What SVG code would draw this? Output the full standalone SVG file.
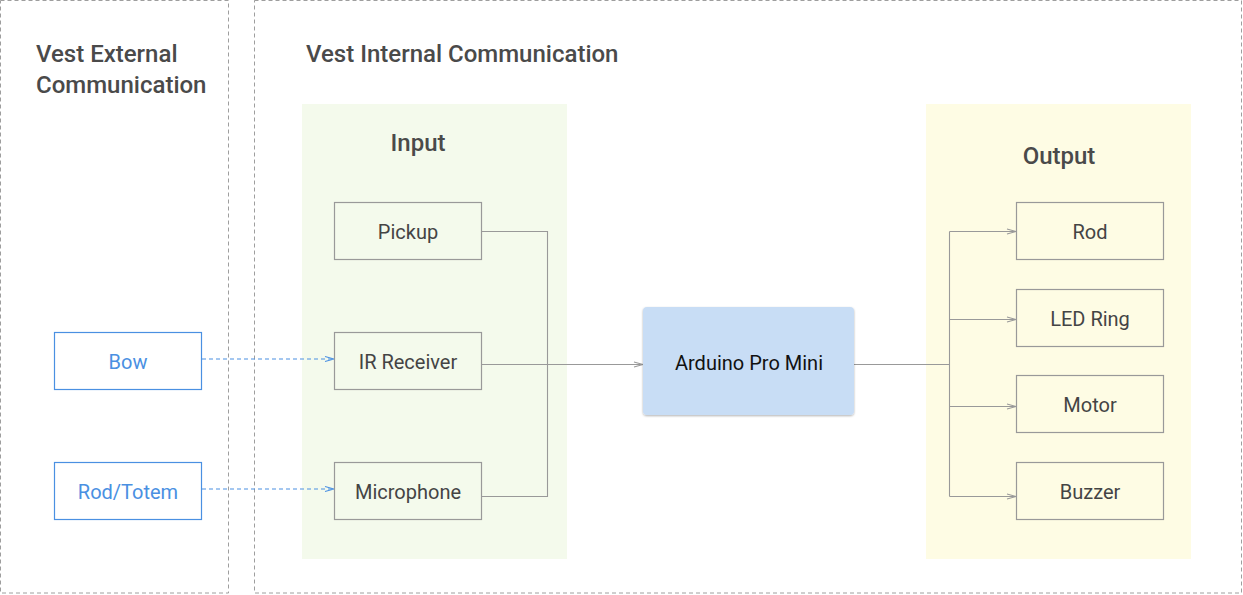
<svg xmlns="http://www.w3.org/2000/svg" width="1243" height="595" viewBox="0 0 1243 595">
<style>
.zone{fill:none;stroke:#9e9e9e;stroke-width:1;stroke-dasharray:4 3}
.title{font-family:Roboto,"Liberation Sans",sans-serif;font-size:24px;font-weight:500;fill:#4a4a4a}
.lbl{font-family:Roboto,"Liberation Sans",sans-serif;font-size:20px;fill:#444;text-anchor:middle}
.box{stroke:#999;stroke-width:1.2}
.ext{fill:#fff;stroke:#4a90e2;stroke-width:1.2}
.extlbl{font-family:Roboto,"Liberation Sans",sans-serif;font-size:20px;fill:#4a90e2;text-anchor:middle}
.conn{fill:none;stroke:#999;stroke-width:1.1}
.dash{fill:none;stroke:#4a90e2;stroke-width:1.1;stroke-dasharray:4 3}
</style>
<defs>
<marker id="arr" markerWidth="12" markerHeight="8" refX="11" refY="4" orient="auto" markerUnits="userSpaceOnUse">
<path d="M2,1.5 L11,4 L2,6.5" fill="none" stroke="#999" stroke-width="1.1"/>
</marker>
<marker id="arrb" markerWidth="12" markerHeight="8" refX="11" refY="4" orient="auto" markerUnits="userSpaceOnUse">
<path d="M2,1.5 L11,4 L2,6.5" fill="none" stroke="#4a90e2" stroke-width="1.1"/>
</marker>
<filter id="sh" x="-10%" y="-10%" width="120%" height="130%">
<feDropShadow dx="0" dy="1" stdDeviation="1" flood-color="#000" flood-opacity="0.3"/>
</filter>
</defs>

<g id="zone-external">
<rect class="zone" x="0.5" y="0.5" width="228" height="592.5"/>
<text class="title" x="36" y="62">Vest External</text>
<text class="title" x="36" y="93">Communication</text>
</g>
<g id="zone-internal">
<rect class="zone" x="254.5" y="0.5" width="987" height="592.5"/>
<text class="title" x="306" y="62">Vest Internal Communication</text>
</g>
<g id="panel-input">
<rect x="302" y="104" width="265" height="455" fill="#f4faec"/>
<text class="title" x="418" y="151" text-anchor="middle">Input</text>
</g>
<g id="panel-output">
<rect x="926" y="104" width="265" height="455" fill="#fefce4"/>
<text class="title" x="1059" y="164" text-anchor="middle">Output</text>
</g>

<g id="connectors">
<path class="dash" d="M202,359 H334" marker-end="url(#arrb)"/>
<path class="dash" d="M202,489 H334" marker-end="url(#arrb)"/>
<path class="conn" d="M481,231.5 H547.5 V496.5 H481"/>
<path class="conn" d="M481,364.5 H643" marker-end="url(#arr)"/>
<path class="conn" d="M854,364.5 H949.5"/>
<path class="conn" d="M949.5,231.5 V496.5"/>
<path class="conn" d="M949.5,231.5 H1016" marker-end="url(#arr)"/>
<path class="conn" d="M949.5,319.5 H1016" marker-end="url(#arr)"/>
<path class="conn" d="M949.5,406.5 H1016" marker-end="url(#arr)"/>
<path class="conn" d="M949.5,496.5 H1016" marker-end="url(#arr)"/>
</g>

<g id="node-bow">
<rect class="ext" x="54.5" y="332.5" width="147" height="57"/>
<text class="extlbl" x="128" y="369">Bow</text>
</g>
<g id="node-rodtotem">
<rect class="ext" x="54.5" y="462.5" width="147" height="57"/>
<text class="extlbl" x="128" y="499">Rod/Totem</text>
</g>

<g id="node-pickup">
<rect class="box" fill="#f4faec" x="334.5" y="202.5" width="147" height="57"/>
<text class="lbl" x="408" y="239">Pickup</text>
</g>
<g id="node-ir">
<rect class="box" fill="#f4faec" x="334.5" y="332.5" width="147" height="57"/>
<text class="lbl" x="408" y="369">IR Receiver</text>
</g>
<g id="node-mic">
<rect class="box" fill="#f4faec" x="334.5" y="462.5" width="147" height="57"/>
<text class="lbl" x="408" y="499">Microphone</text>
</g>

<g id="node-arduino">
<rect x="643" y="307" width="211" height="108" rx="4" fill="#c8ddf5" filter="url(#sh)"/>
<text class="lbl" x="749" y="369.5" style="fill:#111">Arduino Pro Mini</text>
</g>

<g id="node-rod">
<rect class="box" fill="#fefce4" x="1016.5" y="202.5" width="147" height="57"/>
<text class="lbl" x="1090" y="239">Rod</text>
</g>
<g id="node-led">
<rect class="box" fill="#fefce4" x="1016.5" y="289.5" width="147" height="57"/>
<text class="lbl" x="1090" y="326">LED Ring</text>
</g>
<g id="node-motor">
<rect class="box" fill="#fefce4" x="1016.5" y="375.5" width="147" height="57"/>
<text class="lbl" x="1090" y="412">Motor</text>
</g>
<g id="node-buzzer">
<rect class="box" fill="#fefce4" x="1016.5" y="462.5" width="147" height="57"/>
<text class="lbl" x="1090" y="499">Buzzer</text>
</g>
</svg>
